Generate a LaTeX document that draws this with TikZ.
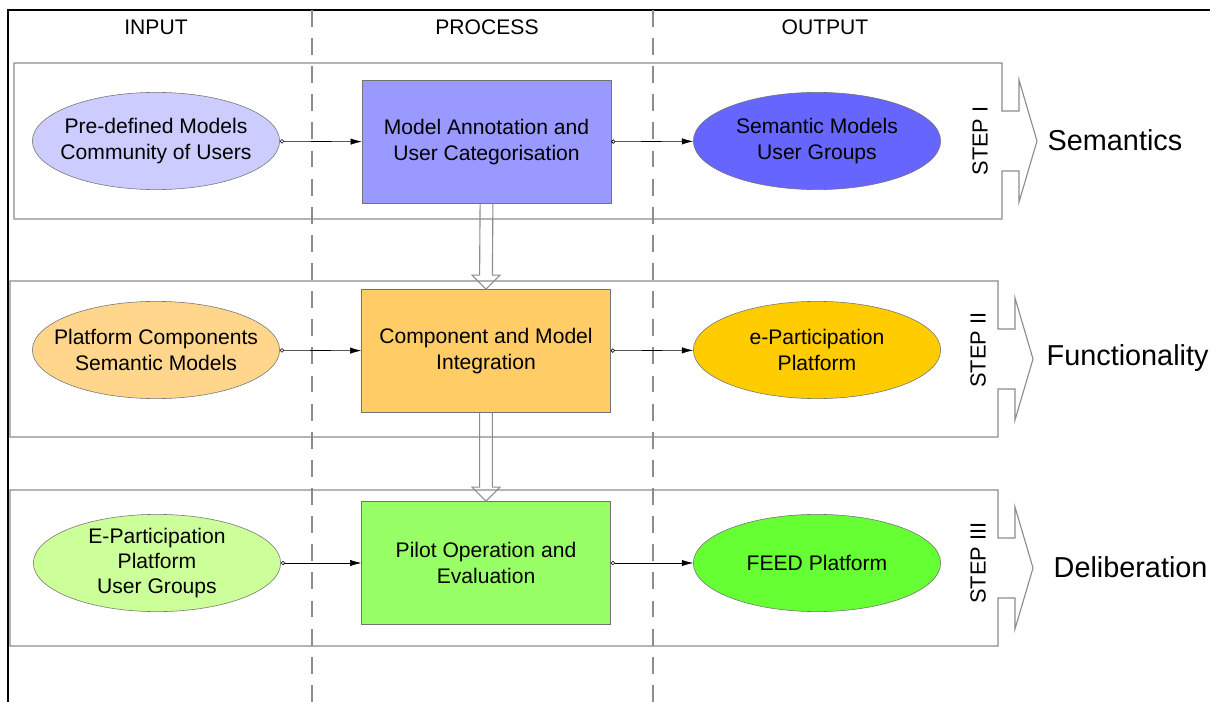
\documentclass[tikz,border=0pt]{standalone}
\usepackage{fontspec}
\setmainfont{Liberation Sans}
\usetikzlibrary{positioning, shapes.geometric, arrows.meta, calc}
\definecolor{linegray}{gray}{0.55}
\definecolor{edgegray}{gray}{0.45}
\definecolor{semlight}{RGB}{204,204,255}
\definecolor{semmid}{RGB}{153,153,255}
\definecolor{semdark}{RGB}{102,102,255}
\definecolor{funlight}{RGB}{255,214,140}
\definecolor{funmid}{RGB}{255,204,102}
\definecolor{fundark}{RGB}{255,204,0}
\definecolor{dellight}{RGB}{204,255,153}
\definecolor{delmid}{RGB}{153,255,102}
\definecolor{deldark}{RGB}{102,255,51}

\begin{document}
\begin{tikzpicture}[
    x=0.025cm, y=-0.025cm,
    every node/.style={font=\fontsize{15}{18}\selectfont, align=center, inner sep=1pt},
    every label/.style={font=\fontsize{15}{18}\selectfont, align=center},
    blob/.style   ={ellipse, draw=edgegray, minimum width=6.18cm, minimum height=2.43cm},
    task/.style   ={rectangle, draw=edgegray, minimum width=6.22cm, minimum height=3.08cm},
    band/.style   ={draw=linegray, thick},
    lane/.style   ={draw=linegray, thick, dash pattern=on 12pt off 8pt},
    link/.style   ={{Circle[open,length=3pt]}-{Latex[length=8pt,width=4.5pt]}, thin, draw=black},
    hollow/.style ={draw=linegray, thick},
    steplabel/.style={rotate=90, font=\fontsize{15.5}{18}\selectfont},
    outcome/.style={anchor=west, font=\fontsize{20.5}{24}\selectfont}
]
\useasboundingbox (0,0) rectangle (1218,702);

% frame and swim lanes
\draw[black, line width=1.2pt] (8,702) -- (8,10) -- (1210,10);
\draw[lane] (312,10) -- (312,702);
\draw[lane] (653,10) -- (653,702);
\node (hin)   at (156,27) {INPUT};
\node (hproc) at (487,27) {PROCESS};
\node (hout)  at (825,27) {OUTPUT};

% step bands with arrow heads
\foreach \lx/\ty/\by/\rx in {14/63/219/1002, 10/281/437/998, 10/490/646/998}
  \draw[band] (\lx,\ty) -- (\rx,\ty) -- (\rx,\ty+48) -- (\rx+17,\ty+48) -- (\rx+17,\ty+17)
    -- (\rx+35,{(\ty+\by)/2}) -- (\rx+17,\by-17) -- (\rx+17,\by-48) -- (\rx,\by-48)
    -- (\rx,\by) -- (\lx,\by) -- cycle;

% Step I -- semantics
\node[blob, fill=semlight, label={center:Pre-defined Models\\Community of Users}] (in1) at (156,141) {};
\node[task, fill=semmid]   (proc1) at (486.5,142) {Model Annotation and\\User Categorisation};
\node[blob, fill=semdark, label={center:Semantic Models\\User Groups}] (out1) at (817,141) {};
\node[steplabel] (step1) at (980,141) {STEP I};
\node[outcome]   (res1)  at (1046,140) {Semantics};

% Step II -- functionality
\node[blob, fill=funlight, label={center:Platform Components\\Semantic Models}] (in2) at (156,350) {};
\node[task, fill=funmid]   (proc2) at (486,351) {Component and Model\\Integration};
\node[blob, fill=fundark, label={center:e-Participation\\Platform}] (out2) at (817,350) {};
\node[steplabel] (step2) at (978,350) {STEP II};
\node[outcome]   (res2)  at (1045,358) {Functionality};

% Step III -- deliberation
\node[blob, fill=dellight, label={center:E-Participation\\Platform\\User Groups}] (in3) at (157,563) {};
\node[task, fill=delmid]   (proc3) at (486,563) {Pilot Operation and\\Evaluation};
\node[blob, fill=deldark, label={center:FEED Platform}] (out3) at (817,563) {};
\node[steplabel] (step3) at (978,563) {STEP III};
\node[outcome]   (res3)  at (1052,567) {Deliberation};

% Arrows -- input to process to output
\draw[link] (in1) -- (proc1);
\draw[link] (proc1) -- (out1);
\draw[link] (in2) -- (proc2);
\draw[link] (proc2) -- (out2);
\draw[link] (in3) -- (proc3);
\draw[link] (proc3) -- (out3);

% hollow arrows between the steps
\draw[hollow] ([xshift=-0.16cm]proc1.south) -- ([xshift=-0.16cm,yshift=0.35cm]proc2.north)
  -- ([xshift=-0.35cm,yshift=0.35cm]proc2.north) -- (proc2.north)
  -- ([xshift=0.35cm,yshift=0.35cm]proc2.north) -- ([xshift=0.16cm,yshift=0.35cm]proc2.north)
  -- ([xshift=0.16cm]proc1.south);
\draw[hollow] ([xshift=-0.16cm]proc2.south) -- ([xshift=-0.16cm,yshift=0.35cm]proc3.north)
  -- ([xshift=-0.35cm,yshift=0.35cm]proc3.north) -- (proc3.north)
  -- ([xshift=0.35cm,yshift=0.35cm]proc3.north) -- ([xshift=0.16cm,yshift=0.35cm]proc3.north)
  -- ([xshift=0.16cm]proc2.south);
\end{tikzpicture}
\end{document}
